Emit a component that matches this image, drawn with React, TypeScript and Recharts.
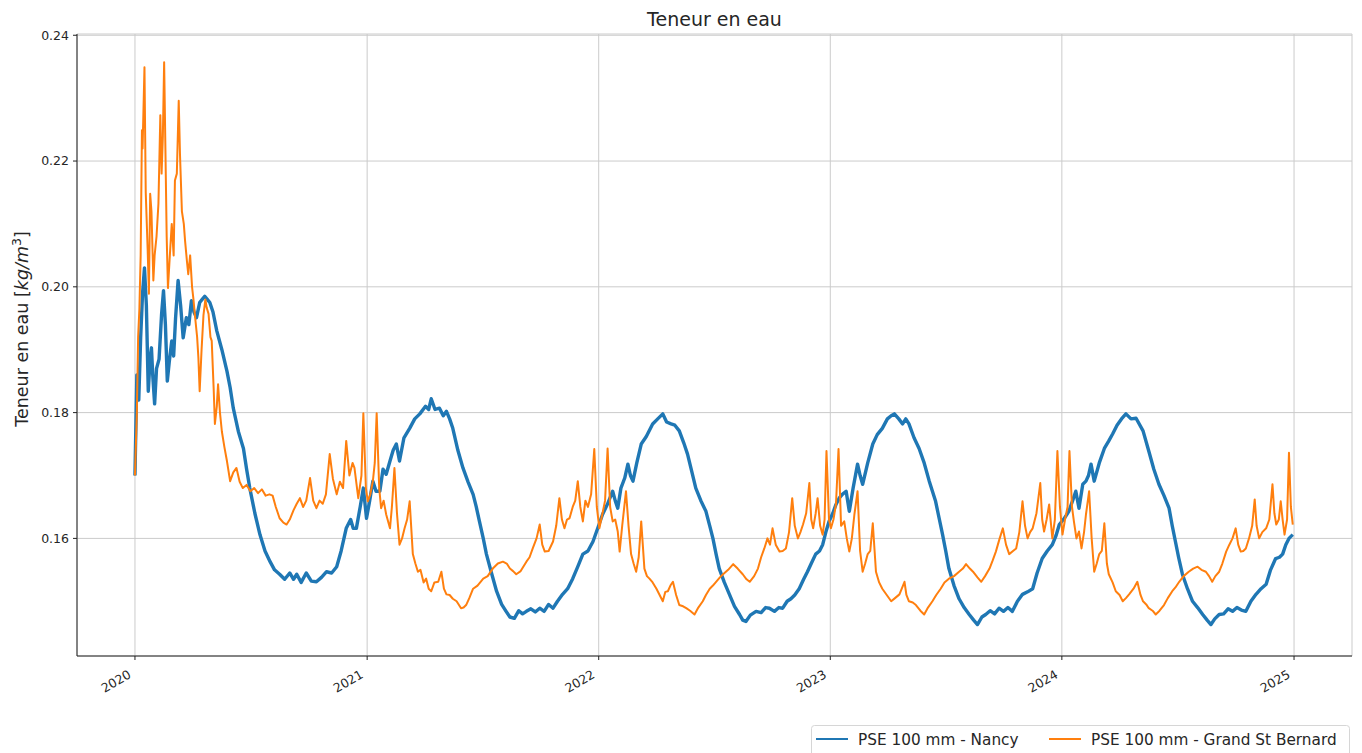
import React from 'react';
import { LineChart, Line, XAxis, YAxis, CartesianGrid } from 'recharts';

const FONT = '"DejaVu Sans", "Liberation Sans", sans-serif';
const TEXT = '#262626';

// x axis: days since 2020-01-01
const yearTicks = [0, 366, 731, 1096, 1461, 1827];
const yearLabels = ['2020', '2021', '2022', '2023', '2024', '2025'];
const valueTicks = [0.16, 0.18, 0.2, 0.22, 0.24];
const seriesNames = ['PSE 100 mm - Nancy', 'PSE 100 mm - Grand St Bernard'];
const seriesColors = ['#1f77b4', '#ff7f0e'];

const X_DOMAIN: [number, number] = [-91.35, 1918.35];
const Y_DOMAIN: [number, number] = [0.1413, 0.2402];

// [day, water content kg/m3]
const nancy: [number, number][] = [
  [0, 0.170], [3, 0.186], [6, 0.182], [9, 0.192], [12, 0.199], [15, 0.203], [18, 0.197], [21, 0.1834],
  [24, 0.1887], [26, 0.1903], [28, 0.186], [31, 0.1814], [34, 0.187], [38, 0.1885], [42, 0.1957], [45, 0.1994],
  [48, 0.194], [51, 0.185], [54, 0.188], [58, 0.1914], [61, 0.189], [64, 0.195], [68, 0.201], [72, 0.197],
  [76, 0.1919], [81, 0.1951], [85, 0.194], [89, 0.1978], [93, 0.196], [97, 0.1951], [102, 0.1975], [106, 0.198],
  [110, 0.1985], [114, 0.198], [118, 0.1975], [123, 0.196], [129, 0.193], [137, 0.190], [145, 0.1866], [150, 0.184],
  [155, 0.1807], [163, 0.177], [171, 0.1743], [176, 0.171], [181, 0.168], [189, 0.164], [197, 0.1606], [205, 0.158],
  [213, 0.1563], [220, 0.155], [228, 0.1543], [236, 0.1535], [244, 0.1545], [250, 0.1535], [255, 0.1543], [262, 0.153],
  [270, 0.1545], [278, 0.1532], [286, 0.1531], [294, 0.1538], [302, 0.1547], [310, 0.1545], [318, 0.1555], [325, 0.158],
  [333, 0.1616], [340, 0.163], [344, 0.1616], [349, 0.1616], [355, 0.165], [360, 0.168], [365, 0.1632], [370, 0.166],
  [375, 0.1691], [380, 0.1675], [386, 0.1675], [391, 0.171], [396, 0.1702], [402, 0.1723], [407, 0.174], [412, 0.175],
  [417, 0.1723], [424, 0.176], [433, 0.1775], [441, 0.179], [449, 0.1798], [458, 0.181], [463, 0.1805], [467, 0.1822],
  [473, 0.1805], [480, 0.1807], [486, 0.1795], [491, 0.1802], [496, 0.179], [501, 0.1775], [509, 0.174], [517, 0.1712],
  [525, 0.169], [533, 0.167], [538, 0.165], [543, 0.1627], [549, 0.160], [554, 0.1575], [562, 0.1545], [570, 0.1516],
  [578, 0.1495], [585, 0.1484], [591, 0.1475], [598, 0.1473], [605, 0.1485], [611, 0.148], [617, 0.1484], [624, 0.1488],
  [631, 0.1483], [638, 0.1489], [645, 0.1484], [652, 0.1495], [659, 0.1489], [666, 0.150], [674, 0.1511], [682, 0.152],
  [690, 0.1536], [698, 0.1555], [706, 0.1575], [714, 0.158], [722, 0.1595], [729, 0.1615], [737, 0.1638], [745, 0.1655],
  [753, 0.1675], [757, 0.166], [761, 0.1648], [766, 0.168], [772, 0.1696], [777, 0.1718], [781, 0.170], [785, 0.1691],
  [791, 0.172], [798, 0.175], [806, 0.1762], [816, 0.1782], [824, 0.179], [832, 0.1798], [838, 0.1785], [845, 0.1782],
  [851, 0.178], [858, 0.1771], [865, 0.1752], [871, 0.1734], [878, 0.1705], [884, 0.168], [892, 0.166], [900, 0.1643],
  [906, 0.162], [911, 0.160], [916, 0.1575], [921, 0.1552], [929, 0.153], [937, 0.1511], [945, 0.1492], [953, 0.1479],
  [958, 0.147], [963, 0.1468], [970, 0.1478], [979, 0.1484], [987, 0.1482], [994, 0.149], [1000, 0.1489], [1008, 0.1484],
  [1015, 0.149], [1021, 0.1489], [1028, 0.150], [1034, 0.1504], [1040, 0.151], [1047, 0.152], [1054, 0.1535], [1060, 0.1547],
  [1066, 0.156], [1073, 0.1575], [1079, 0.158], [1084, 0.159], [1089, 0.161], [1094, 0.1627], [1100, 0.164], [1105, 0.1654],
  [1110, 0.1664], [1115, 0.167], [1121, 0.1675], [1126, 0.1643], [1132, 0.168], [1139, 0.1718], [1143, 0.170], [1147, 0.1686],
  [1155, 0.172], [1163, 0.175], [1170, 0.1765], [1178, 0.1775], [1186, 0.179], [1192, 0.1795], [1197, 0.1798], [1204, 0.179],
  [1210, 0.1782], [1215, 0.179], [1220, 0.1782], [1228, 0.176], [1236, 0.1743], [1244, 0.172], [1252, 0.1691], [1262, 0.1659],
  [1268, 0.163], [1273, 0.1606], [1278, 0.158], [1283, 0.1552], [1291, 0.1525], [1299, 0.1504], [1307, 0.149], [1315, 0.1479],
  [1322, 0.147], [1328, 0.1463], [1335, 0.1475], [1341, 0.1479], [1348, 0.1485], [1355, 0.148], [1362, 0.1489], [1369, 0.1484],
  [1376, 0.149], [1383, 0.1484], [1391, 0.150], [1399, 0.1511], [1407, 0.1515], [1415, 0.152], [1422, 0.1545], [1430, 0.1568],
  [1438, 0.158], [1446, 0.159], [1452, 0.1605], [1457, 0.1622], [1465, 0.1632], [1472, 0.1643], [1478, 0.166], [1483, 0.1675],
  [1488, 0.1648], [1494, 0.1686], [1499, 0.1691], [1503, 0.170], [1507, 0.1718], [1512, 0.1691], [1520, 0.172], [1528, 0.1743],
  [1535, 0.1755], [1541, 0.1766], [1548, 0.178], [1555, 0.179], [1562, 0.1798], [1570, 0.179], [1578, 0.1791], [1589, 0.1771],
  [1598, 0.1739], [1606, 0.171], [1614, 0.1686], [1622, 0.1668], [1630, 0.1648], [1635, 0.162], [1640, 0.1595], [1645, 0.157],
  [1651, 0.1543], [1659, 0.152], [1667, 0.150], [1675, 0.149], [1683, 0.1479], [1690, 0.147], [1696, 0.1463], [1702, 0.1472],
  [1709, 0.1479], [1716, 0.148], [1723, 0.1488], [1730, 0.1484], [1737, 0.149], [1744, 0.1486], [1751, 0.1484], [1759, 0.150],
  [1767, 0.1511], [1775, 0.152], [1783, 0.1527], [1790, 0.155], [1798, 0.1568], [1804, 0.157], [1809, 0.1575], [1814, 0.159],
  [1819, 0.160], [1825, 0.1606],
];

const bernard: [number, number][] = [
  [0, 0.170], [3, 0.180], [5, 0.192], [7, 0.1965], [9, 0.205], [11, 0.2249], [12, 0.222], [15, 0.2349],
  [17, 0.215], [20, 0.206], [22, 0.1989], [24, 0.2148], [26, 0.212], [29, 0.201], [31, 0.205], [34, 0.208],
  [37, 0.2132], [40, 0.2273], [42, 0.218], [44, 0.224], [46, 0.2357], [48, 0.222], [50, 0.208], [52, 0.1998],
  [55, 0.205], [58, 0.210], [61, 0.205], [63, 0.2169], [66, 0.218], [69, 0.2296], [71, 0.221], [74, 0.212],
  [77, 0.210], [79, 0.2073], [82, 0.204], [84, 0.202], [87, 0.205], [90, 0.200], [92, 0.1982], [95, 0.195],
  [98, 0.192], [100, 0.1887], [102, 0.1834], [105, 0.190], [108, 0.1955], [111, 0.198], [113, 0.1967], [116, 0.1957],
  [119, 0.192], [121, 0.1914], [124, 0.184], [126, 0.1782], [129, 0.181], [131, 0.1845], [134, 0.180], [137, 0.177],
  [141, 0.1745], [145, 0.1723], [150, 0.1691], [155, 0.1705], [160, 0.1712], [165, 0.169], [170, 0.168], [176, 0.1685],
  [182, 0.1675], [188, 0.168], [194, 0.1672], [200, 0.1678], [206, 0.1668], [212, 0.167], [217, 0.1668], [222, 0.165],
  [228, 0.1632], [234, 0.1625], [239, 0.1622], [244, 0.163], [250, 0.1645], [255, 0.1655], [260, 0.1664], [265, 0.165],
  [270, 0.166], [276, 0.1696], [281, 0.166], [286, 0.1648], [291, 0.166], [296, 0.1655], [301, 0.167], [307, 0.1734],
  [312, 0.1695], [318, 0.167], [323, 0.169], [328, 0.168], [333, 0.1755], [338, 0.170], [343, 0.172], [346, 0.1712],
  [352, 0.1664], [357, 0.170], [360, 0.1799], [364, 0.168], [367, 0.1659], [371, 0.167], [375, 0.1691], [378, 0.172],
  [381, 0.1799], [385, 0.168], [388, 0.1648], [392, 0.166], [396, 0.1638], [402, 0.1616], [405, 0.165], [409, 0.1712],
  [413, 0.164], [417, 0.159], [421, 0.160], [425, 0.1616], [429, 0.163], [433, 0.1659], [438, 0.1575], [442, 0.156],
  [446, 0.1547], [450, 0.155], [455, 0.153], [459, 0.1536], [463, 0.152], [467, 0.1516], [472, 0.153], [478, 0.1531],
  [483, 0.1547], [487, 0.152], [491, 0.1511], [496, 0.151], [501, 0.1504], [507, 0.150], [514, 0.1489], [518, 0.149],
  [522, 0.1494], [527, 0.1505], [533, 0.152], [540, 0.1525], [549, 0.1536], [556, 0.154], [564, 0.1552], [572, 0.156],
  [580, 0.1563], [586, 0.156], [591, 0.1552], [596, 0.1548], [601, 0.1543], [608, 0.1548], [617, 0.1563], [622, 0.157],
  [627, 0.1584], [633, 0.160], [638, 0.1622], [642, 0.159], [646, 0.1579], [652, 0.158], [659, 0.1595], [664, 0.162],
  [669, 0.1664], [673, 0.163], [677, 0.1616], [681, 0.163], [685, 0.1632], [690, 0.165], [694, 0.166], [698, 0.1691],
  [702, 0.165], [706, 0.1627], [710, 0.166], [714, 0.165], [719, 0.167], [724, 0.1742], [728, 0.165], [732, 0.1616],
  [737, 0.164], [741, 0.166], [745, 0.1743], [749, 0.165], [753, 0.1627], [757, 0.163], [761, 0.1611], [764, 0.1579],
  [768, 0.162], [774, 0.1675], [778, 0.162], [782, 0.1575], [786, 0.156], [790, 0.1547], [794, 0.157], [798, 0.1627],
  [803, 0.1552], [807, 0.154], [811, 0.1536], [816, 0.153], [822, 0.152], [827, 0.151], [832, 0.150], [836, 0.1515],
  [840, 0.1516], [844, 0.1525], [848, 0.1531], [853, 0.151], [858, 0.1494], [864, 0.1492], [869, 0.1489], [875, 0.1485],
  [882, 0.1479], [888, 0.149], [895, 0.150], [900, 0.151], [906, 0.152], [911, 0.1525], [916, 0.1531], [922, 0.1538],
  [927, 0.1543], [935, 0.155], [943, 0.1559], [950, 0.1552], [958, 0.1543], [964, 0.1535], [969, 0.1531], [976, 0.154],
  [982, 0.1552], [987, 0.157], [992, 0.1584], [997, 0.160], [1001, 0.159], [1005, 0.1616], [1010, 0.159], [1016, 0.1579],
  [1021, 0.158], [1026, 0.1584], [1031, 0.161], [1036, 0.1664], [1040, 0.162], [1045, 0.160], [1049, 0.161], [1053, 0.1622],
  [1058, 0.164], [1063, 0.1688], [1066, 0.163], [1069, 0.1616], [1073, 0.164], [1076, 0.1664], [1080, 0.162], [1084, 0.1606],
  [1087, 0.163], [1090, 0.1739], [1094, 0.163], [1097, 0.1616], [1101, 0.163], [1105, 0.1655], [1109, 0.1742], [1113, 0.162],
  [1118, 0.1627], [1122, 0.160], [1126, 0.1579], [1130, 0.160], [1134, 0.1638], [1139, 0.1675], [1143, 0.158], [1147, 0.1547],
  [1151, 0.156], [1155, 0.1575], [1159, 0.158], [1163, 0.1624], [1168, 0.1547], [1173, 0.153], [1178, 0.152], [1185, 0.151],
  [1192, 0.150], [1198, 0.1505], [1205, 0.1511], [1213, 0.1531], [1216, 0.151], [1220, 0.150], [1226, 0.1498], [1231, 0.1494],
  [1238, 0.1485], [1244, 0.1479], [1250, 0.149], [1257, 0.150], [1263, 0.151], [1270, 0.152], [1276, 0.153], [1283, 0.1536],
  [1291, 0.154], [1299, 0.1547], [1305, 0.1552], [1310, 0.1559], [1316, 0.1552], [1321, 0.1547], [1328, 0.1538], [1334, 0.1531],
  [1340, 0.154], [1347, 0.1552], [1352, 0.1565], [1357, 0.1579], [1363, 0.160], [1368, 0.1616], [1373, 0.159], [1378, 0.1575],
  [1384, 0.158], [1389, 0.1584], [1394, 0.161], [1399, 0.1659], [1403, 0.162], [1407, 0.160], [1411, 0.161], [1415, 0.1616],
  [1421, 0.164], [1427, 0.1688], [1430, 0.163], [1433, 0.1611], [1437, 0.163], [1441, 0.1654], [1446, 0.160], [1450, 0.163],
  [1454, 0.1739], [1458, 0.165], [1462, 0.1606], [1466, 0.163], [1470, 0.165], [1473, 0.1739], [1477, 0.165], [1480, 0.1627],
  [1484, 0.160], [1488, 0.1611], [1492, 0.1584], [1496, 0.161], [1499, 0.1638], [1504, 0.1675], [1508, 0.160], [1512, 0.1547],
  [1516, 0.156], [1520, 0.1575], [1524, 0.158], [1528, 0.1624], [1532, 0.156], [1535, 0.1543], [1541, 0.153], [1546, 0.1516],
  [1552, 0.151], [1557, 0.150], [1562, 0.1505], [1567, 0.1511], [1574, 0.152], [1580, 0.1531], [1585, 0.151], [1589, 0.150],
  [1594, 0.1495], [1598, 0.1489], [1604, 0.1485], [1609, 0.1479], [1615, 0.1485], [1622, 0.1494], [1628, 0.1505], [1635, 0.1516],
  [1640, 0.1522], [1646, 0.1531], [1653, 0.154], [1661, 0.1547], [1668, 0.1552], [1675, 0.1555], [1681, 0.155], [1688, 0.1547],
  [1693, 0.154], [1698, 0.1531], [1703, 0.154], [1709, 0.1547], [1714, 0.156], [1720, 0.1579], [1725, 0.159], [1730, 0.160],
  [1735, 0.1616], [1739, 0.159], [1743, 0.1579], [1747, 0.158], [1751, 0.1584], [1756, 0.160], [1761, 0.162], [1765, 0.1662],
  [1768, 0.162], [1772, 0.160], [1777, 0.161], [1783, 0.1616], [1788, 0.163], [1793, 0.1686], [1796, 0.164], [1799, 0.1622],
  [1803, 0.163], [1806, 0.1659], [1809, 0.163], [1812, 0.1606], [1816, 0.163], [1819, 0.1736], [1822, 0.165], [1825, 0.1622],
];

const toRows = (pts: [number, number][]) => pts.map(([day, value]) => ({ day, value }));
const nancyRows = toRows(nancy);
const bernardRows = toRows(bernard);

const YearTick = (props: any) => {
  const { x, y, payload } = props;
  const i = yearTicks.indexOf(payload.value);
  const ax = x - 3;
  const ay = y + 14;
  return (
    <text
      x={ax}
      y={ay}
      transform={`rotate(-30 ${ax} ${ay})`}
      textAnchor="end"
      fontSize={12.5}
      fontFamily={FONT}
      fill={TEXT}
    >
      {yearLabels[i]}
    </text>
  );
};

const YTitle = () => (
  <text
    x={28}
    y={329}
    transform="rotate(-90 28 329)"
    textAnchor="middle"
    fontSize={17.5}
    fontFamily={FONT}
    fill={TEXT}
  >
    Teneur en eau [<tspan fontStyle="italic">kg/m</tspan>
    <tspan dy={-7} fontSize={12.5}>3</tspan>
    <tspan dy={7}>]</tspan>
  </text>
);

export default function App() {
  return (
    <div
      style={{
        position: 'absolute',
        left: 0,
        top: 0,
        width: 1362,
        height: 753,
        background: '#fff',
        fontFamily: FONT,
        overflow: 'hidden',
      }}
    >
      <LineChart width={1362} height={753} margin={{ top: 34, right: 10, left: 17, bottom: 47 }}>
        <CartesianGrid stroke="#cbcbcb" strokeWidth={1} />
        <XAxis
          dataKey="day"
          type="number"
          domain={X_DOMAIN}
          ticks={yearTicks}
          allowDataOverflow
          height={50}
          tickSize={4}
          tickMargin={3}
          stroke="#222"
          tick={<YearTick />}
          interval={0}
        />
        <XAxis
          xAxisId="top"
          orientation="top"
          type="number"
          domain={X_DOMAIN}
          allowDataOverflow
          height={0}
          tick={false}
          tickLine={false}
          stroke="#222"
        />
        <YAxis
          type="number"
          domain={Y_DOMAIN}
          ticks={valueTicks}
          allowDataOverflow
          width={60}
          tickSize={4}
          tickMargin={4}
          stroke="#222"
          interval={0}
          tickFormatter={(v: number) => v.toFixed(2)}
          tick={{ fontSize: 12.5, fill: TEXT, fontFamily: FONT }}
          label={{ content: () => <YTitle /> }}
        />
        <YAxis
          yAxisId="right"
          orientation="right"
          type="number"
          domain={Y_DOMAIN}
          allowDataOverflow
          width={0}
          tick={false}
          tickLine={false}
          stroke="#222"
        />
        <Line
          data={nancyRows}
          dataKey="value"
          name={seriesNames[0]}
          type="linear"
          stroke={seriesColors[0]}
          strokeWidth={3.4}
          strokeLinejoin="round"
          dot={false}
          activeDot={false}
          isAnimationActive={false}
        />
        <Line
          data={bernardRows}
          dataKey="value"
          name={seriesNames[1]}
          type="linear"
          stroke={seriesColors[1]}
          strokeWidth={2}
          strokeLinejoin="round"
          dot={false}
          activeDot={false}
          isAnimationActive={false}
        />
      </LineChart>

      <svg
        width={1362}
        height={753}
        style={{ position: 'absolute', left: 0, top: 0, pointerEvents: 'none' }}
      >
        <text x={714.5} y={26} textAnchor="middle" fontSize={19} fontFamily={FONT} fill={TEXT}>
          Teneur en eau
        </text>
        <rect x={811.5} y={725.5} width={538} height={34} rx={3} fill="#fff" stroke="#d6d6d6" />
        <line x1={816} x2={848} y1={739} y2={739} stroke={seriesColors[0]} strokeWidth={2} />
        <text x={858} y={744.5} fontSize={15.3} fontFamily={FONT} fill={TEXT}>
          {seriesNames[0]}
        </text>
        <line x1={1049} x2={1081} y1={739} y2={739} stroke={seriesColors[1]} strokeWidth={2} />
        <text x={1091} y={744.5} fontSize={15.3} fontFamily={FONT} fill={TEXT}>
          {seriesNames[1]}
        </text>
      </svg>
    </div>
  );
}
